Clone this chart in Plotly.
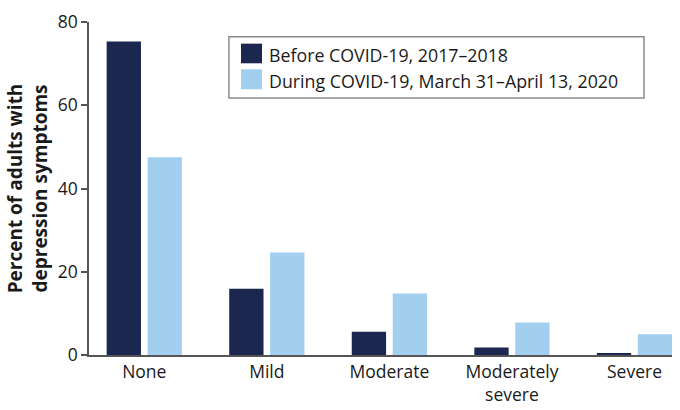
import plotly.graph_objects as go

categories = ["None", "Mild", "Moderate", "Moderately<br>severe", "Severe"]
before_vals = [75.3, 15.9, 5.6, 1.8, 0.3]
during_vals = [47.5, 24.6, 14.8, 7.8, 5.0]
series_names = ["Before COVID-19, 2017\u20132018",
                "During COVID-19, March 31\u2013April 13, 2020"]
y_ticks = [0, 20, 40, 60, 80]

DARK = "#1b274f"
LIGHT = "#a2cfed"
FONT = "Open Sans"
TXT = "#1a1a1a"

x_idx = list(range(len(categories)))

fig = go.Figure()
fig.add_trace(go.Bar(x=x_idx, y=before_vals, name=series_names[0],
                     marker=dict(color=DARK, line=dict(width=0)),
                     width=0.28, offset=-0.307))
fig.add_trace(go.Bar(x=x_idx, y=during_vals, name=series_names[1],
                     marker=dict(color=LIGHT, line=dict(width=0)),
                     width=0.28, offset=0.027))

# manual legend (box, swatches, labels) in paper coordinates
shapes = [dict(type="rect", xref="paper", yref="paper",
               x0=0.240, x1=0.952, y0=0.772, y1=0.956,
               line=dict(color="#8a8a8a", width=1.5), fillcolor="white")]
sw_y = [(0.876, 0.935), (0.798, 0.858)]
txt_y = [0.901, 0.824]
annotations = []
for nm, col, (ya, yb), ty in zip(series_names, [DARK, LIGHT], sw_y, txt_y):
    shapes.append(dict(type="rect", xref="paper", yref="paper",
                       x0=0.2607, x1=0.2967, y0=ya, y1=yb,
                       line=dict(width=0), fillcolor=col))
    annotations.append(dict(text=nm, xref="paper", yref="paper",
                            x=0.3047, y=ty, xanchor="left", yanchor="middle",
                            showarrow=False, font=dict(size=17.8, color=TXT)))

fig.update_layout(
    width=680, height=410,
    margin=dict(l=89, r=8, t=22, b=55, autoexpand=False),
    paper_bgcolor="white", plot_bgcolor="white",
    font=dict(family=FONT, size=17.5, color=TXT),
    barmode="overlay", showlegend=False,
    shapes=shapes, annotations=annotations,
    xaxis=dict(tickvals=x_idx, ticktext=categories, range=[-0.451, 4.306],
               showline=True, linecolor="#555555", linewidth=1.5,
               ticks="", showgrid=False, zeroline=False, automargin=False,
               tickfont=dict(size=17.5)),
    yaxis=dict(range=[0, 80], tickvals=y_ticks, showline=True,
               linecolor="#555555", linewidth=1.5, ticks="outside",
               ticklen=6, tickcolor="#555555", tickwidth=1.5,
               showgrid=False, zeroline=False, automargin=False,
               tickfont=dict(size=17.5),
               title=dict(text="<b>Percent of adults with<br>depression symptoms</b>",
                          font=dict(size=19), standoff=5)),
)

fig.write_html("out.html", config={"displayModeBar": False},
               post_script="document.body.style.margin='0';")
